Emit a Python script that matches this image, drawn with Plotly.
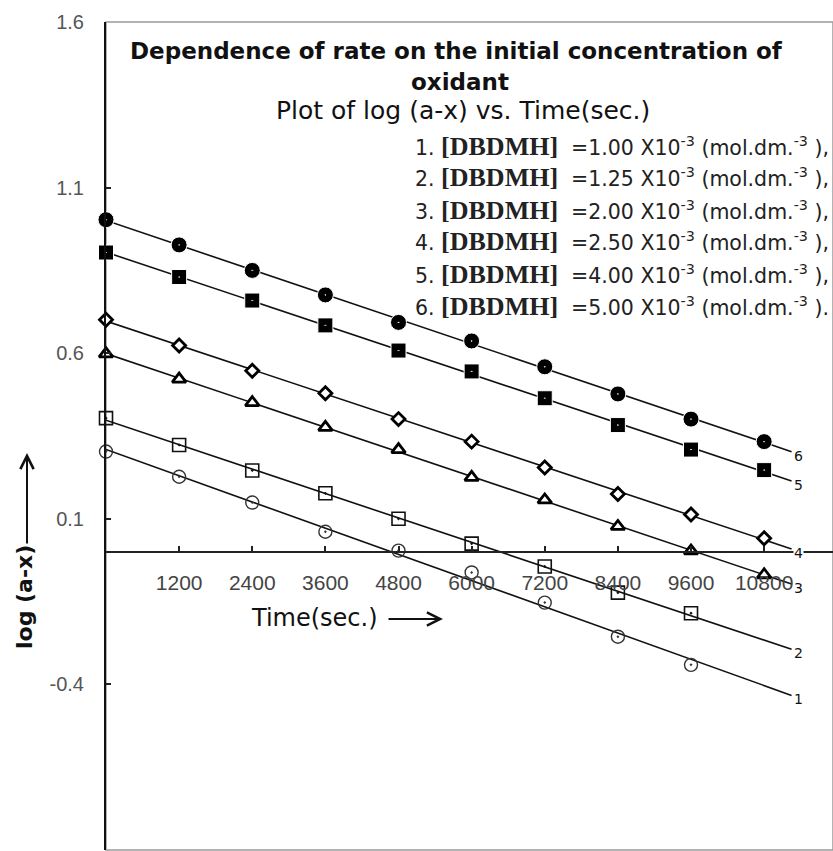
import numpy as np
import plotly.graph_objects as go

# ---------------- data ----------------
time_s = [0, 1200, 2400, 3600, 4800, 6000, 7200, 8400, 9600, 10800]
s1 = [0.303, 0.227, 0.149, 0.061, 0.004, -0.062, -0.153, -0.256, -0.341]
s2 = [0.404, 0.323, 0.246, 0.177, 0.100, 0.025, -0.044, -0.123, -0.185]
s3 = [0.598, 0.522, 0.451, 0.376, 0.309, 0.225, 0.157, 0.077, 0.003, -0.069]
s4 = [0.701, 0.623, 0.547, 0.479, 0.401, 0.333, 0.255, 0.175, 0.113, 0.041]
s5 = [0.904, 0.830, 0.759, 0.684, 0.608, 0.545, 0.464, 0.383, 0.309, 0.247]
s6 = [1.003, 0.927, 0.850, 0.776, 0.693, 0.637, 0.559, 0.477, 0.401, 0.333]
series_labels = ["1", "2", "3", "4", "5", "6"]
concentrations = ["1.00", "1.25", "2.00", "2.50", "4.00", "5.00"]
x_ticks = [1200, 2400, 3600, 4800, 6000, 7200, 8400, 9600, 10800]
x_tick_text = ["1200", "2400", "3600", "4800", "6000", "7200", "8400", "9600", "10800"]
y_ticks = [-0.9, -0.4, 0.1, 0.6, 1.1, 1.6]
y_tick_text = ["-0.9", "-0.4", "0.1", "0.6", "1.1", "1.6"]
x_range = [0, 11930]
y_range = [-0.9, 1.6]
line_end = 11250

series = [s1, s2, s3, s4, s5, s6]

# ---------------- layout geometry (page pixels) ----------------
W, H = 833, 851
PAGE_L, PAGE_R, PAGE_T, PAGE_B = 106, 833, 22, 850
ML, MT = PAGE_L, PAGE_T
MR, MB = W - PAGE_R, H - PAGE_B
PW, PH = PAGE_R - PAGE_L, PAGE_B - PAGE_T


def px(xp):
    return (xp - PAGE_L) / PW


def py(yp):
    return (PAGE_B - yp) / PH


markers = [
    dict(symbol="circle-open-dot", size=13, color="#333333", line=dict(width=1.4, color="#333333")),
    dict(symbol="square-open-dot", size=13, color="#111111", line=dict(width=1.6, color="#111111")),
    dict(symbol="triangle-up", size=12, color="white", line=dict(width=2.8, color="black")),
    dict(symbol="diamond", size=10, color="white", line=dict(width=2.8, color="black")),
    dict(symbol="square-dot", size=15, color="black", line=dict(width=1, color="white")),
    dict(symbol="circle-dot", size=16, color="black", line=dict(width=1, color="white")),
]

fig = go.Figure()

# fitted lines
fits = []
for ys in series:
    xs = np.array(time_s[:len(ys)], dtype=float)
    k, b = np.polyfit(xs, np.array(ys), 1)
    fits.append((k, b))
    xl = np.array([0.0, line_end])
    fig.add_trace(go.Scatter(x=xl, y=k * xl + b, mode="lines",
                             line=dict(color="#111111", width=1.6),
                             showlegend=False, hoverinfo="skip"))

# markers
for ys, mk in zip(series, markers):
    fig.add_trace(go.Scatter(x=time_s[:len(ys)], y=ys, mode="markers",
                             marker=mk, showlegend=False, cliponaxis=False))

annotations = []
# series end labels
for (k, b), lab in zip(fits, series_labels):
    annotations.append(dict(x=line_end, y=k * line_end + b, xref="x", yref="y",
                            text=lab, showarrow=False, xanchor="left", yanchor="middle",
                            xshift=1, yshift=-4, borderpad=0,
                            font=dict(family="DejaVu Sans", size=14, color="#111111"),
                            bgcolor="white"))


def txt_ann(xp, yp, text, size, **kw):
    d = dict(x=px(xp), y=py(yp), xref="paper", yref="paper", showarrow=False,
             xanchor="center", yanchor="middle", text=text,
             font=dict(family="DejaVu Sans", size=size, color="#111111"))
    d.update(kw)
    return d


# titles
annotations.append(txt_ann(456, 51, "<b>Dependence of rate on the initial concentration of</b>", 23))
annotations.append(txt_ann(460, 82, "<b>oxidant</b>", 23))
annotations.append(txt_ann(463, 110, "Plot of log (a-x) vs. Time(sec.)", 25))

# legend lines
for i, c in enumerate(concentrations):
    end = ")." if i == len(concentrations) - 1 else "),"
    txt = (f"{i + 1}. <span style=\"font-family:'Liberation Serif';font-size:26px\"><b>[DBDMH]</b></span>"
           f"&nbsp; ={c} X10<sup>-3</sup> (mol.dm.<sup>-3</sup> {end}")
    annotations.append(dict(x=px(413), y=py(146 + 32 * i), xref="paper", yref="paper",
                            showarrow=False, xanchor="left", yanchor="middle", text=txt,
                            font=dict(family="DejaVu Sans", size=20.5, color="#222222")))

# axis titles with arrows
annotations.append(txt_ann(24, 597, "<b>log (a-x)</b>", 22, textangle=-90))
annotations.append(dict(x=px(27), y=py(453), xref="paper", yref="paper", showarrow=True,
                        ax=0, ay=92, text="", arrowhead=5, arrowsize=1.3, arrowwidth=2,
                        arrowcolor="#111111"))
annotations.append(txt_ann(314, 618, "Time(sec.)", 24))
annotations.append(dict(x=px(443), y=py(619), xref="paper", yref="paper", showarrow=True,
                        ax=-56, ay=0, text="", arrowhead=5, arrowsize=1.3, arrowwidth=2,
                        arrowcolor="#111111"))

x_axis_pos = (0 - y_range[0]) / (y_range[1] - y_range[0])

fig.update_layout(
    width=W, height=H,
    margin=dict(l=ML, r=MR, t=MT, b=MB, autoexpand=False),
    paper_bgcolor="white", plot_bgcolor="white",
    showlegend=False,
    annotations=annotations,
    shapes=[dict(type="rect", xref="paper", yref="paper", x0=0, x1=1, y0=0, y1=1,
                 line=dict(color="#9a9a9a", width=1.5), layer="below")],
    xaxis=dict(range=x_range, tickvals=x_ticks, ticktext=x_tick_text, ticks="inside",
               ticklen=5, tickwidth=1.5, automargin=False,
               tickcolor="#222222", showline=True, linecolor="#222222", linewidth=2,
               showgrid=False, zeroline=False, anchor="free", position=x_axis_pos,
               ticklabelstandoff=12,
               tickfont=dict(family="Liberation Sans", size=21, color="#444444")),
    yaxis=dict(range=y_range, tickvals=y_ticks, ticktext=y_tick_text, ticks="inside",
               ticklen=5, tickwidth=1.5, tickcolor="#222222", showline=True, automargin=False,
               linecolor="#111111", linewidth=2, showgrid=False, zeroline=False,
               ticklabelstandoff=16,
               tickfont=dict(family="Liberation Sans", size=20, color="#555555")),
)

fig.write_html("out.html", config={"displayModeBar": False},
               post_script="document.body.style.margin='0px';document.body.style.overflow='hidden';")
